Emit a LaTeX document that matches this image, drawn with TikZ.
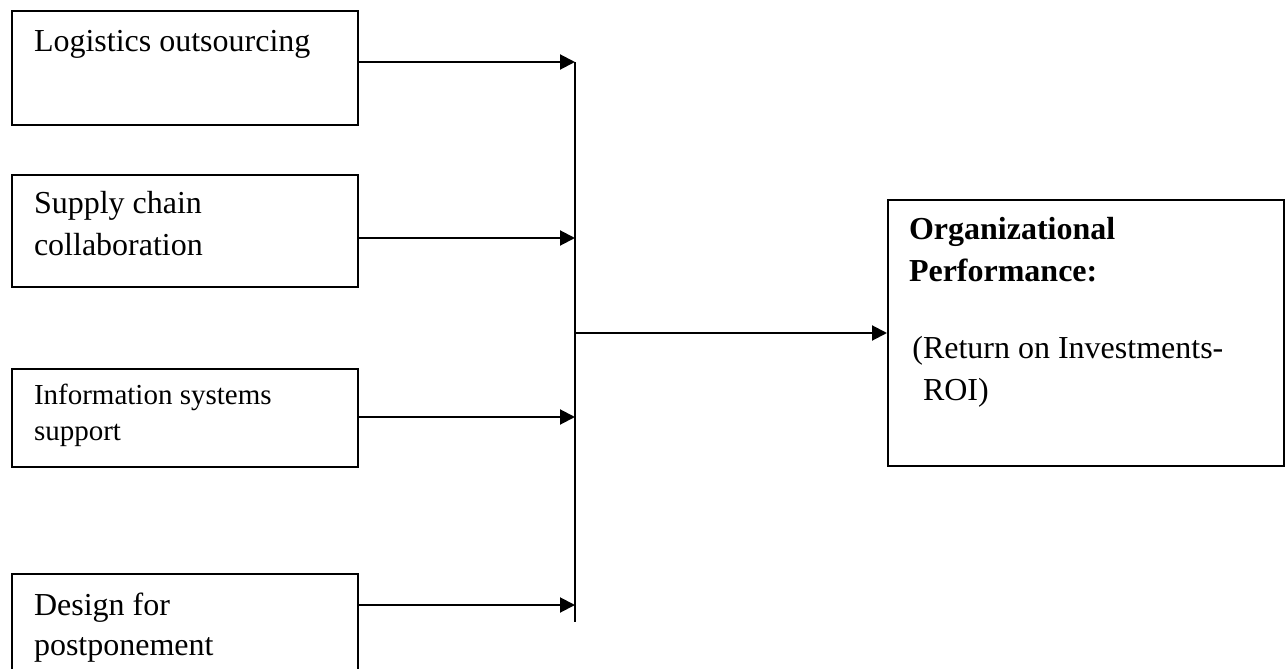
\documentclass[tikz,border=0pt]{standalone}
\usepackage{fontspec}
\setmainfont{Liberation Serif}
\usetikzlibrary{arrows.meta}

\begin{document}
\begin{tikzpicture}[x=0.5pt, y=-0.5pt, line width=1pt, >={Triangle[length=7.5pt, width=7.5pt]},
    box/.style={draw, anchor=north west, minimum width=173pt, inner sep=0pt},
    lbl/.style={anchor=base west, align=left, inner sep=0pt, font=\fontsize{16pt}{21pt}\selectfont}]
    \useasboundingbox (0,0) rectangle (1287,669);

    \node[box, minimum height=57pt] (lo) at (11,10) {};
    \node[box, minimum height=56pt] (sc) at (11,174) {};
    \node[box, minimum height=49pt] (is) at (11,368) {};
    \node[box, minimum height=49.5pt] (dp) at (11,573) {};
    \node[draw, anchor=north west, minimum width=198pt, minimum height=133pt, inner sep=0pt] (op) at (887,199) {};

    % labels sit on the baseline of their last line
    \node[lbl] (lotxt) at (33,52) {Logistics outsourcing};
    \node[lbl] (sctxt) at (33,255) {Supply chain\\collaboration};
    \node[lbl, font=\fontsize{14.5pt}{18pt}\selectfont] (istxt) at (33,440) {Information systems\\support};
    \node[lbl, font=\fontsize{16pt}{20pt}\selectfont] (dptxt) at (33,655) {Design for\\postponement};
    \node[lbl, font=\fontsize{16pt}{21pt}\selectfont\bfseries] (ophead) at (908,281) {Organizational\\Performance:};
    \node[lbl] (opsub) at (922,400) {\llap{(}Return on Investments-\\ROI)};

    % bus on the right of the four factors
    \coordinate (b1) at (575,62);
    \coordinate (b2) at (575,238);
    \coordinate (b3) at (575,417);
    \coordinate (b4) at (575,605);
    \coordinate (bend) at (575,622);

    \draw (b1) -- (bend);
    \draw[->] (lo.east |- b1) -- (b1);
    \draw[->] (sc.east |- b2) -- (b2);
    \draw[->] (is.east |- b3) -- (b3);
    \draw[->] (dp.east |- b4) -- (b4);
    \draw[->] (op.west -| b1) -- (op.west);
\end{tikzpicture}
\end{document}
